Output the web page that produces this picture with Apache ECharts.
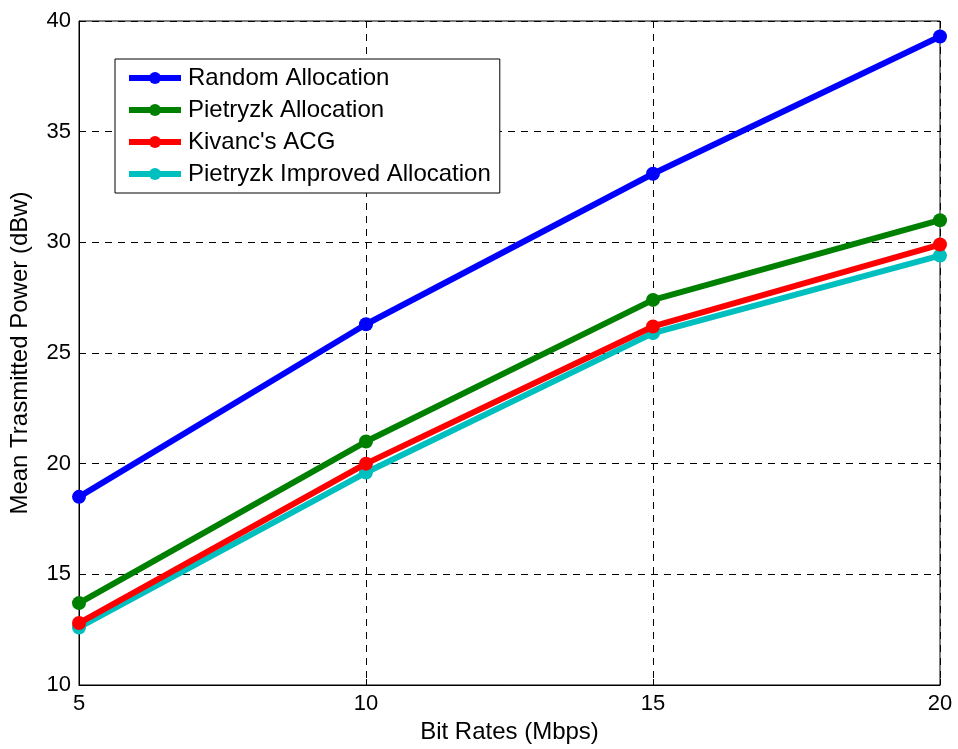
<!DOCTYPE html>
<html>
<head>
<meta charset="utf-8">
<script src="https://cdn.jsdelivr.net/npm/echarts@6/dist/echarts.min.js"></script>
<style>
  html, body { margin: 0; padding: 0; background: #fff; }
  #chart { width: 958px; height: 749px; }
</style>
</head>
<body>
<div id="chart"></div>
<script>
const bitRates = [5, 10, 15, 20];
const randomAlloc = [18.5, 26.3, 33.1, 39.3];
const pietryzkAlloc = [13.7, 21.0, 27.4, 31.0];
const kivancAcg = [12.8, 20.0, 26.2, 29.9];
const pietryzkImproved = [12.6, 19.6, 25.9, 29.4];

const seriesNames = ["Random Allocation", "Pietryzk Allocation", "Kivanc's ACG", "Pietryzk Improved Allocation"];
const seriesColors = ["#0000ff", "#008000", "#ff0000", "#00bfbf"];
const seriesData = [randomAlloc, pietryzkAlloc, kivancAcg, pietryzkImproved];

const font = "Liberation Sans, Arial, sans-serif";

var myChart = echarts.init(document.getElementById("chart"));

var gridLine = {
  show: true,
  lineStyle: { color: "#000", type: [7, 6], width: 1 },
};

var option = {
  animation: false,
  backgroundColor: "#fff",
  grid: {
    left: 79, right: 18, top: 21, bottom: 64,
    show: true, borderColor: "#000", borderWidth: 1,
  },
  legend: {
    left: 115, top: 59,
    orient: "vertical",
    backgroundColor: "#fff",
    borderColor: "#000",
    borderWidth: 1,
    padding: [7, 9, 7, 11],
    itemWidth: 52,
    itemHeight: 15,
    itemGap: 8,
    lineStyle: { width: 6 },
    textStyle: { fontFamily: font, fontSize: 24, color: "#000", padding: [0, 0, 0, 2] },
    data: seriesNames,
  },
  xAxis: {
    type: "value",
    min: 5, max: 20, interval: 5,
    name: "Bit Rates (Mbps)",
    nameLocation: "middle",
    nameGap: 33,
    nameTextStyle: { fontFamily: font, fontSize: 24, color: "#000" },
    axisLine: { lineStyle: { color: "#000" } },
    axisTick: { inside: true, length: 6, lineStyle: { color: "#000" } },
    axisLabel: { fontFamily: font, fontSize: 22, color: "#000", margin: 8 },
    splitLine: gridLine,
  },
  yAxis: {
    type: "value",
    min: 10, max: 40, interval: 5,
    name: "Mean Trasmitted Power (dBw)",
    nameLocation: "middle",
    nameGap: 47,
    nameTextStyle: { fontFamily: font, fontSize: 24, color: "#000" },
    axisLine: { lineStyle: { color: "#000" } },
    axisTick: { inside: true, length: 6, lineStyle: { color: "#000" } },
    axisLabel: { fontFamily: font, fontSize: 22, color: "#000", margin: 8 },
    splitLine: gridLine,
  },
  series: seriesNames.map((name, i) => ({
    name: name,
    type: "line",
    data: bitRates.map((x, j) => [x, seriesData[i][j]]),
    symbol: "circle",
    symbolSize: 14,
    color: seriesColors[i],
    lineStyle: { width: 6, color: seriesColors[i] },
    itemStyle: { color: seriesColors[i] },
    z: 10 - i,
  })),
};

myChart.setOption(option);
</script>
</body>
</html>
